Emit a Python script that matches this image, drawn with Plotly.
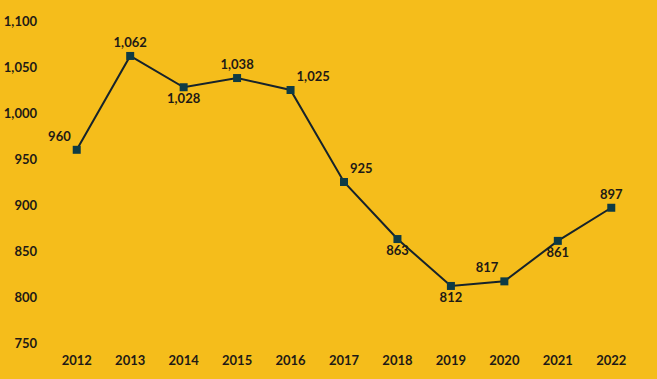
import plotly.graph_objects as go

years = ["2012", "2013", "2014", "2015", "2016", "2017", "2018", "2019", "2020", "2021", "2022"]
values = [960, 1062, 1028, 1038, 1025, 925, 863, 812, 817, 861, 897]
label_pos = ["top left", "top center", "bottom center", "top center", "top right",
             "top right", "bottom center", "bottom center", "top left", "bottom center", "top center"]
y_ticks = [750, 800, 850, 900, 950, 1000, 1050, 1100]

bg = "#F5BD1B"
txt = "#1E1A16"

fig = go.Figure(go.Scatter(
    x=years, y=values, mode="lines+markers+text",
    text=[f"{v:,}" for v in values], textposition=label_pos,
    textfont=dict(family="Lato", size=13, color=txt, weight="bold"),
    line=dict(color="#16232B", width=2),
    marker=dict(symbol="square", size=8, color="#0E3B45"),
    cliponaxis=False,
))
fig.update_layout(
    width=657, height=379,
    paper_bgcolor=bg, plot_bgcolor=bg,
    margin=dict(l=50, r=19, t=21, b=36),
    showlegend=False,
    font=dict(family="Lato", size=13, color=txt, weight="bold"),
)
fig.update_xaxes(type="category", range=[-0.5, len(years) - 0.5], showgrid=False,
                 zeroline=False, showline=False, ticks="", ticklabelstandoff=8,
                 automargin=False)
fig.update_yaxes(range=[750, 1100], tickvals=y_ticks, tickformat=",", showgrid=False,
                 zeroline=False, showline=False, ticks="", ticklabelstandoff=12,
                 automargin=False)
fig.write_html("out.html", config={"displayModeBar": False},
               post_script="document.body.style.margin='0';document.body.style.overflow='hidden';")
